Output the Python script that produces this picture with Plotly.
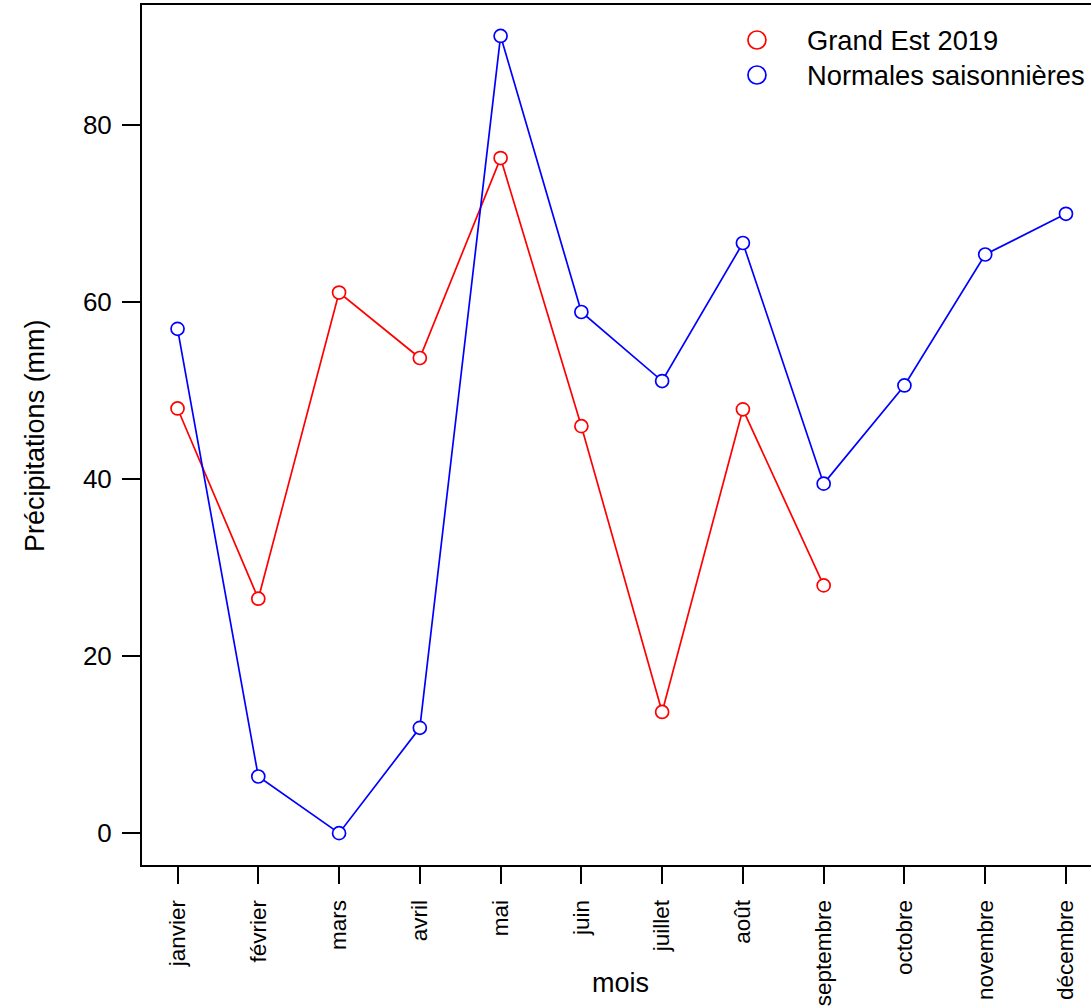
import plotly.graph_objects as go

mois = ["janvier", "février", "mars", "avril", "mai", "juin", "juillet",
        "août", "septembre", "octobre", "novembre", "décembre"]
grand_est_2019 = [48.0, 26.5, 61.1, 53.7, 76.3, 46.0, 13.7, 47.9, 28.0]
normales = [57.0, 6.4, 0.0, 11.9, 90.1, 58.9, 51.1, 66.7, 39.5, 50.6, 65.4, 70.0]
series_names = ["Grand Est 2019", "Normales saisonnières"]
series_colors = ["#ff0000", "#0000ff"]

FONT = "Liberation Sans, Arial, Helvetica, sans-serif"
x_idx = list(range(1, len(mois) + 1))

fig = go.Figure()
for name, vals, col in zip(series_names, [grand_est_2019, normales], series_colors):
    fig.add_trace(go.Scatter(
        x=x_idx[:len(vals)], y=vals, mode="lines+markers", name=name,
        showlegend=False,
        line=dict(color=col, width=1.7),
        marker=dict(symbol="circle", size=13, color="white",
                    line=dict(color=col, width=1.7)),
    ))

# manual legend (R style): circle symbol + text
leg_sym_x = 0.648
leg_txt_x = 0.6987
leg_y = [0.9593, 0.9186]
for name, col, yy in zip(series_names, series_colors, leg_y):
    fig.add_shape(type="circle", xref="paper", yref="paper",
                  xsizemode="pixel", ysizemode="pixel",
                  xanchor=leg_sym_x, yanchor=yy,
                  x0=-9, x1=9, y0=-9, y1=9,
                  line=dict(color=col, width=1.7), fillcolor="rgba(0,0,0,0)")
    fig.add_annotation(text=name, xref="paper", yref="paper",
                       x=leg_txt_x, y=yy, xanchor="left", yanchor="middle",
                       showarrow=False, font=dict(size=27.3))

# axis titles
fig.add_annotation(text="mois", xref="paper", yref="paper", x=0.5047, y=-0.1372,
                   xanchor="center", yanchor="middle", showarrow=False,
                   font=dict(size=27))
fig.add_annotation(text="Précipitations (mm)", xref="paper", yref="paper",
                   x=-0.1128, y=0.5, xanchor="center", yanchor="middle",
                   textangle=-90, showarrow=False, font=dict(size=27))

fig.update_layout(
    width=1091, height=1006,
    margin=dict(l=142, r=0, t=5, b=141),
    paper_bgcolor="white", plot_bgcolor="white",
    font=dict(family=FONT, size=26, color="black"),
    showlegend=False,
    xaxis=dict(
        range=[0.56, 12.31], tickmode="array", tickvals=x_idx, ticktext=mois,
        tickangle=-90, tickfont=dict(size=22.5), ticks="outside", ticklen=17,
        tickwidth=1.5, tickcolor="black", showline=True, linecolor="black",
        linewidth=2, mirror=True, showgrid=False, zeroline=False,
        ticklabelstandoff=7,
    ),
    yaxis=dict(
        range=[-3.6, 93.6], tickvals=[0, 20, 40, 60, 80], ticks="outside",
        ticklen=18, tickwidth=1.5, tickcolor="black", tickfont=dict(size=26),
        showline=True, linecolor="black", linewidth=2, mirror=False,
        showgrid=False, zeroline=False, ticklabelstandoff=5,
    ),
)

fig.write_html("out.html",
               config={"displayModeBar": False},
               post_script="document.body.style.margin='0';"
                           "document.body.style.overflow='hidden';"
                           "document.documentElement.style.overflow='hidden';")
